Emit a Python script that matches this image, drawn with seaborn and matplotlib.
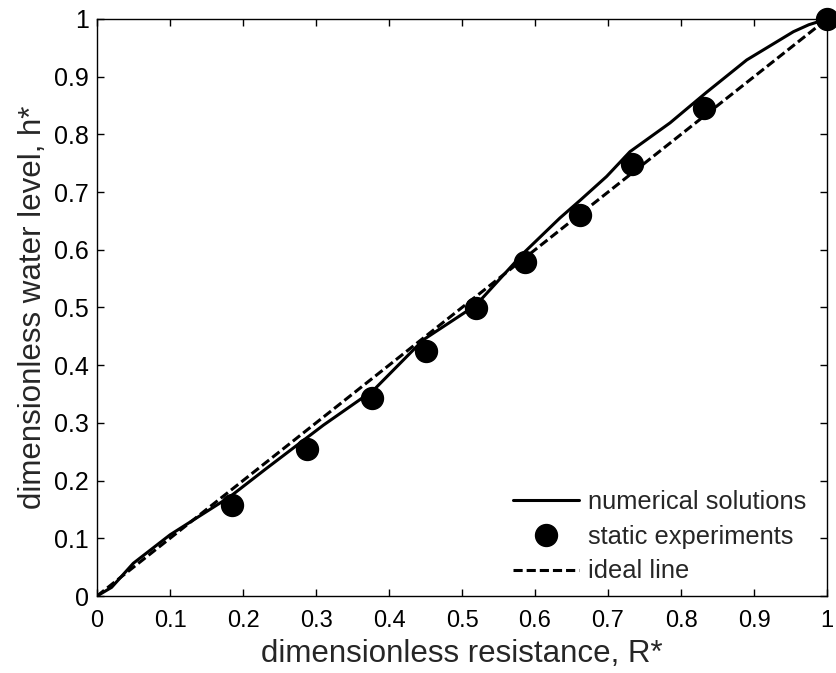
import numpy as np
import pandas as pd
import matplotlib
matplotlib.use("Agg")
import matplotlib.pyplot as plt
import seaborn as sns

# numerical solutions
num_R = [0.0, 0.02, 0.0497, 0.1, 0.182, 0.232, 0.31, 0.379, 0.447, 0.519, 0.584,
         0.634, 0.662, 0.698, 0.730, 0.785, 0.835, 0.890, 0.954, 0.975, 1.0]
num_h = [0.0, 0.015, 0.0567, 0.106, 0.172, 0.221, 0.296, 0.357, 0.444, 0.504, 0.594,
         0.655, 0.686, 0.727, 0.770, 0.820, 0.873, 0.929, 0.978, 0.990, 1.0]
# static experiments
exp_R = [0.185, 0.288, 0.376, 0.450, 0.519, 0.586, 0.662, 0.733, 0.832, 1.0]
exp_h = [0.157, 0.255, 0.343, 0.425, 0.499, 0.579, 0.661, 0.748, 0.845, 1.0]
# ideal line
ideal_R = [0.0, 1.0]
ideal_h = [0.0, 1.0]

xticks = [0, 0.1, 0.2, 0.3, 0.4, 0.5, 0.6, 0.7, 0.8, 0.9, 1]
xticklabels = ["0", "0.1", "0.2", "0.3", "0.4", "0.5", "0.6", "0.7", "0.8", "0.9", "1"]

sns.set_theme(style="ticks")
plt.rcParams['font.family'] = ['Liberation Sans', 'DejaVu Sans']

fig = plt.figure(figsize=(8.37, 6.73), dpi=100)
ax = fig.add_axes([0.1159, 0.1144, 0.9881 - 0.1159, 0.9718 - 0.1144])

df_num = pd.DataFrame({"R": num_R, "h": num_h})
df_exp = pd.DataFrame({"R": exp_R, "h": exp_h})
df_ideal = pd.DataFrame({"R": ideal_R, "h": ideal_h})

sns.lineplot(data=df_num, x="R", y="h", ax=ax, color="black", lw=2.2,
             label="numerical solutions", sort=False, estimator=None)
ax.plot(exp_R, exp_h, "o", color="black", ms=15.8, label="static experiments", clip_on=False)
sns.lineplot(data=df_ideal, x="R", y="h", ax=ax, color="black", lw=2.2,
             linestyle=(0, (3, 1.3)), label="ideal line", sort=False, estimator=None)

ax.set_xlim(0, 1)
ax.set_ylim(0, 1)
ax.set_xticks(xticks)
ax.set_xticklabels(xticklabels)
ax.set_yticks(xticks)
ax.set_yticklabels(xticklabels)
ax.tick_params(direction="in", length=5, width=1, top=True, right=True,
               labelsize=17, colors="black")
ax.tick_params(axis="x", pad=10)
ax.tick_params(axis="y", pad=6, labelsize=18)
for s in ax.spines.values():
    s.set_linewidth(1)
    s.set_color("black")
ax.set_xlabel("dimensionless resistance, R*", fontsize=22.5, labelpad=5)
ax.set_ylabel("dimensionless water level, h*", fontsize=22.5, labelpad=4)

leg = ax.legend(loc="lower right", frameon=False, fontsize=18.4, handlelength=2.6,
                handletextpad=0.35, labelspacing=0.42, borderaxespad=0.0,
                bbox_to_anchor=(0.986, 0.004))

fig.savefig("out.png", dpi=100)
